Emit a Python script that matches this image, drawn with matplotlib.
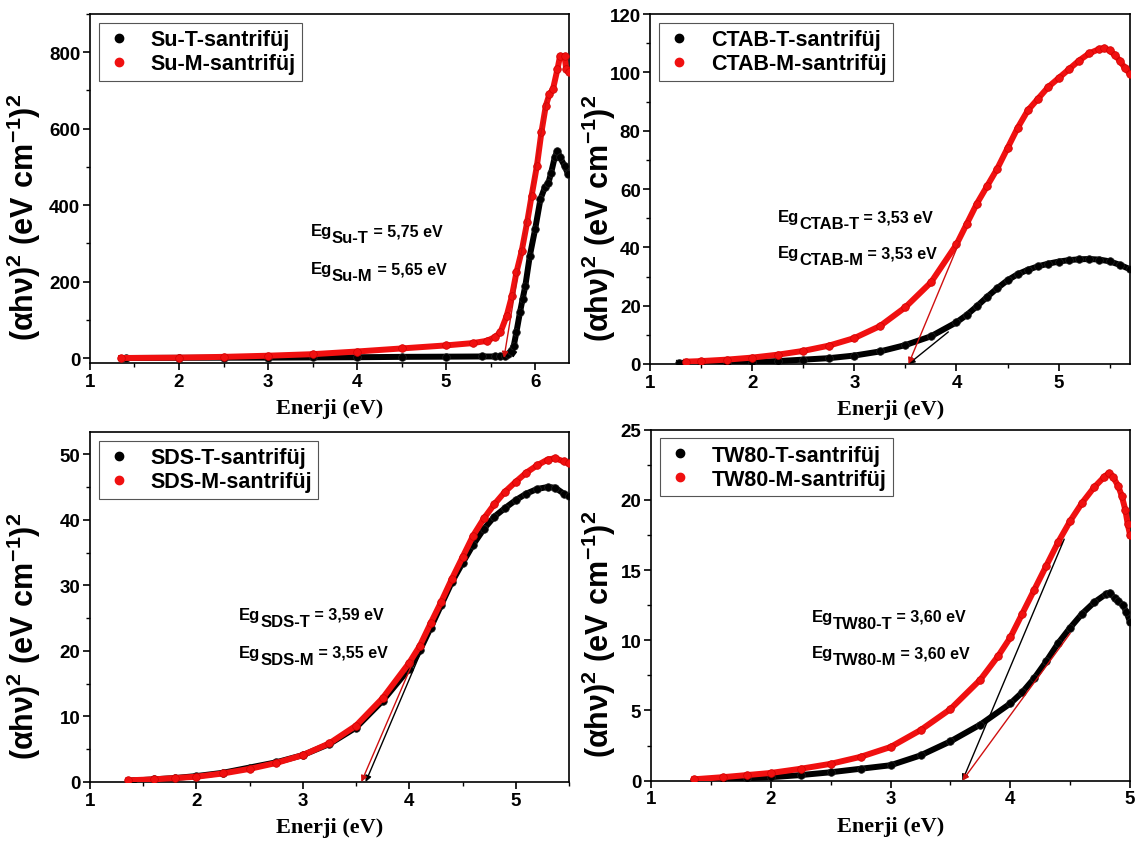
import matplotlib
matplotlib.use("Agg")
import matplotlib.pyplot as plt
from matplotlib.lines import Line2D
from matplotlib.ticker import MultipleLocator

plt.rcParams['font.family'] = ['Liberation Sans', 'DejaVu Sans']
plt.rcParams['mathtext.fontset'] = 'custom'
plt.rcParams['mathtext.rm'] = 'Liberation Sans:bold'
plt.rcParams['mathtext.it'] = 'Liberation Sans:bold'
plt.rcParams['mathtext.bf'] = 'Liberation Sans:bold'

# ---------------- data ----------------
# Su panel
su_t_E = [1.4, 2.0, 2.5, 3.0, 3.5, 4.0, 4.5, 5.0, 5.4, 5.55, 5.61, 5.66, 5.7, 5.73, 5.76, 5.79, 5.83, 5.86,
          5.89, 5.94, 6.0, 6.06, 6.11, 6.15, 6.18, 6.22, 6.25, 6.28, 6.33, 6.37]
su_t_v = [0, 0.5, 0.8, 1, 1.5, 2, 3, 3.5, 4, 4, 4, 6, 10, 18, 32, 68, 120, 155,
          189, 267, 337, 416, 447, 459, 485, 525, 542, 525, 503, 481]
su_m_E = [1.35, 2.0, 2.5, 3.0, 3.5, 4.0, 4.5, 5.0, 5.3, 5.46, 5.55, 5.61, 5.68, 5.74, 5.79, 5.85, 5.91,
          5.96, 6.02, 6.07, 6.12, 6.16, 6.2, 6.25, 6.28, 6.33, 6.35, 6.38]
su_m_v = [0, 1, 3, 6, 10, 17, 25, 33, 39, 45, 55, 67, 110, 163, 224, 281, 355,
          424, 503, 590, 660, 690, 703, 755, 790, 790, 755, 748]

# CTAB panel
ctab_t_E = [1.28, 1.5, 1.75, 2.0, 2.25, 2.5, 2.75, 3.0, 3.25, 3.5, 3.75, 4.0, 4.1, 4.2, 4.3, 4.4, 4.5,
            4.6, 4.7, 4.8, 4.9, 5.0, 5.1, 5.2, 5.3, 5.4, 5.5, 5.6, 5.7]
ctab_t_v = [0.4, 0.4, 0.5, 0.7, 1.0, 1.5, 2.0, 2.9, 4.3, 6.5, 9.5, 14.3, 16.8, 19.8, 23.0, 26.0, 28.7,
            30.8, 32.3, 33.5, 34.4, 35.1, 35.6, 35.9, 36.0, 35.8, 35.2, 34.0, 32.5]
ctab_m_E = [1.35, 1.5, 1.75, 2.0, 2.25, 2.5, 2.75, 3.0, 3.25, 3.5, 3.75, 4.0, 4.1, 4.2, 4.3, 4.4, 4.5,
            4.6, 4.7, 4.8, 4.9, 5.0, 5.1, 5.2, 5.3, 5.4, 5.45, 5.5, 5.55, 5.6, 5.65, 5.7]
ctab_m_v = [0.8, 1.0, 1.5, 2.2, 3.2, 4.5, 6.3, 8.9, 13.0, 19.5, 28, 41, 48, 55, 61, 67, 74,
            81, 87, 91, 95, 98, 101, 104, 106.5, 108, 108.3, 107.5, 106, 104, 101.5, 99.5]

# SDS panel
sds_t_E = [1.4, 1.6, 1.8, 2.0, 2.25, 2.5, 2.75, 3.0, 3.25, 3.5, 3.75, 4.0, 4.1, 4.2, 4.3, 4.4, 4.5,
           4.6, 4.7, 4.8, 4.9, 5.0, 5.1, 5.2, 5.3, 5.37, 5.45, 5.5]
sds_t_v = [0.2, 0.4, 0.6, 0.9, 1.4, 2.2, 3.0, 4.1, 5.8, 8.3, 12.4, 17.3, 20.1, 23.5, 27.0, 30.5, 33.4,
           36.2, 38.6, 40.5, 41.8, 43.0, 44.0, 44.7, 45.0, 44.9, 44.0, 43.6]
sds_m_E = [1.36, 1.6, 1.8, 2.0, 2.25, 2.5, 2.75, 3.0, 3.25, 3.5, 3.75, 4.0, 4.1, 4.2, 4.3, 4.4, 4.5,
           4.6, 4.7, 4.8, 4.9, 5.0, 5.1, 5.2, 5.3, 5.37, 5.45, 5.5]
sds_m_v = [0.25, 0.4, 0.6, 0.8, 1.3, 2.0, 2.9, 4.1, 5.9, 8.6, 12.8, 18.2, 20.8, 24.2, 27.5, 31.0, 34.3,
           37.6, 40.2, 42.4, 44.3, 45.8, 47.2, 48.3, 49.2, 49.4, 48.9, 48.6]

# TW80 panel
tw_t_E = [1.36, 1.6, 1.8, 2.0, 2.25, 2.5, 2.75, 3.0, 3.25, 3.5, 3.75, 4.0, 4.1, 4.2, 4.3, 4.4, 4.5,
          4.6, 4.7, 4.8, 4.83, 4.87, 4.9, 4.94, 4.97, 5.0]
tw_t_v = [0.05, 0.1, 0.17, 0.25, 0.4, 0.6, 0.85, 1.1, 1.8, 2.8, 4.0, 5.5, 6.3, 7.3, 8.5, 9.8, 10.9,
          11.9, 12.7, 13.3, 13.4, 13.0, 12.8, 12.5, 12.0, 11.3]
tw_m_E = [1.36, 1.6, 1.8, 2.0, 2.25, 2.5, 2.75, 3.0, 3.25, 3.5, 3.75, 3.9, 4.0, 4.1, 4.2, 4.3, 4.4, 4.5,
          4.6, 4.7, 4.78, 4.82, 4.86, 4.9, 4.93, 4.96, 4.98, 5.0]
tw_m_v = [0.1, 0.25, 0.4, 0.55, 0.85, 1.2, 1.7, 2.4, 3.6, 5.1, 7.2, 8.9, 10.2, 11.9, 13.6, 15.3, 17.0, 18.5,
          19.8, 20.9, 21.6, 21.9, 21.6, 21.0, 20.3, 19.3, 18.3, 17.5]

# band gaps and tangent-line upper ends (E, value)
su_eg = [5.75, 5.65]
su_tan_end = [(6.06, 416), (6.13, 680)]
ctab_eg = [3.53, 3.53]
ctab_tan_end = [(3.92, 11), (4.03, 42)]
sds_eg = [3.59, 3.55]
sds_tan_end = [(4.10, 19.5), (4.04, 18.5)]
tw_eg = [3.60, 3.60]
tw_tan_end = [(4.45, 17.2), (4.50, 10.5)]

labels_su = ['Su-T-santrifüj', 'Su-M-santrifüj']
labels_ctab = ['CTAB-T-santrifüj', 'CTAB-M-santrifüj']
labels_sds = ['SDS-T-santrifüj', 'SDS-M-santrifüj']
labels_tw = ['TW80-T-santrifüj', 'TW80-M-santrifüj']
sub_su = ['Su-T', 'Su-M']
sub_ctab = ['CTAB-T', 'CTAB-M']
sub_sds = ['SDS-T', 'SDS-M']
sub_tw = ['TW80-T', 'TW80-M']

BLACK = '#000000'
RED = '#f01010'

fig = plt.figure(figsize=(11.4, 8.53), dpi=100)

panels = [
    dict(rect=[0.0789, 0.5733, 0.4202, 0.4091], xlim=(1, 6.38), ylim=(-13, 900), ymaj=200, ymin=100,
         xmax_tick=6, T=(su_t_E, su_t_v), M=(su_m_E, su_m_v), eg=su_eg, tan=su_tan_end,
         labels=labels_su, sub=sub_su, txt=(3.48, 321, 222), ylx=-0.098),
    dict(rect=[0.5705, 0.5721, 0.4207, 0.4103], xlim=(1, 5.7), ylim=(0, 120), ymaj=20, ymin=10,
         xmax_tick=5, T=(ctab_t_E, ctab_t_v), M=(ctab_m_E, ctab_m_v), eg=ctab_eg, tan=ctab_tan_end,
         labels=labels_ctab, sub=sub_ctab, txt=(2.25, 49, 36.6), ylx=-0.068),
    dict(rect=[0.0789, 0.0821, 0.4202, 0.4103], xlim=(1, 5.5), ylim=(0, 53.4), ymaj=10, ymin=5,
         xmax_tick=5, T=(sds_t_E, sds_t_v), M=(sds_m_E, sds_m_v), eg=sds_eg, tan=sds_tan_end,
         labels=labels_sds, sub=sub_sds, txt=(2.40, 24.9, 19.1), ylx=-0.098),
    dict(rect=[0.5711, 0.0836, 0.4202, 0.4115], xlim=(1, 5), ylim=(0, 25), ymaj=5, ymin=2.5,
         xmax_tick=5, T=(tw_t_E, tw_t_v), M=(tw_m_E, tw_m_v), eg=tw_eg, tan=tw_tan_end,
         labels=labels_tw, sub=sub_tw, txt=(2.34, 11.4, 8.8), ylx=-0.068),
]

for p in panels:
    ax = fig.add_axes(p['rect'])
    ax.plot(p['T'][0], p['T'][1], '-o', color=BLACK, lw=4.3, ms=5.5, mec='#222222', mew=0.5, zorder=3)
    ax.plot(p['M'][0], p['M'][1], '-o', color=RED, lw=4.3, ms=5.5, mec='#d00000', mew=0.5, zorder=4)
    cols = [BLACK, '#d01010']
    for k in range(2):
        ax.annotate('', xy=(p['eg'][k], 0), xytext=p['tan'][k],
                    arrowprops=dict(arrowstyle='-|>', color=cols[k], lw=1.0, mutation_scale=9,
                                    shrinkA=0, shrinkB=0), zorder=6)
    ax.set_xlim(*p['xlim'])
    ax.set_ylim(*p['ylim'])
    ax.set_xticks(range(1, p['xmax_tick'] + 1))
    ax.xaxis.set_minor_locator(MultipleLocator(0.5))
    ax.yaxis.set_major_locator(MultipleLocator(p['ymaj']))
    ax.yaxis.set_minor_locator(MultipleLocator(p['ymin']))
    ax.tick_params(axis='both', which='major', direction='out', length=5, width=1.2,
                   labelsize=13.5, pad=2)
    ax.tick_params(axis='both', which='minor', direction='out', length=3, width=1.0)
    for lab in ax.get_xticklabels() + ax.get_yticklabels():
        lab.set_fontweight('bold')
    for s in ax.spines.values():
        s.set_linewidth(1.2)
    ax.set_xlabel('Enerji (eV)', family=['Liberation Serif'], fontweight='bold', fontsize=16, labelpad=6)
    ax.set_ylabel(r'$(\alpha h\nu)^{2}\ (eV\ cm^{-1})^{2}$', fontsize=22)
    ax.yaxis.set_label_coords(p['ylx'], 0.42)

    handles = [Line2D([], [], ls='none', marker='o', ms=6, color=BLACK),
               Line2D([], [], ls='none', marker='o', ms=6, color=RED)]
    leg = ax.legend(handles, p['labels'], loc='upper left', fancybox=False, framealpha=1,
                    edgecolor='#555555', prop=dict(family='Liberation Sans', weight='bold', size=15.5),
                    borderaxespad=0.4, handletextpad=0.8, handlelength=1.3, labelspacing=0.15,
                    borderpad=0.3)
    leg.get_frame().set_linewidth(0.8)

    tx, ty1, ty2 = p['txt']
    egs = [p['eg'][0], p['eg'][1]]
    for k, ty in enumerate([ty1, ty2]):
        t1 = ax.text(tx, ty, 'Eg', fontsize=12, fontweight='bold', va='baseline', ha='left', zorder=7)
        t2 = ax.annotate(p['sub'][k], xy=(1, 0), xycoords=t1, xytext=(0, -5), textcoords='offset points',
                         fontsize=12, fontweight='bold', va='bottom', ha='left', zorder=7)
        val = ('%.2f' % egs[k]).replace('.', ',')
        ax.annotate(' = %s eV' % val, xy=(1, 1), xycoords=(t2, t1), xytext=(0, 0),
                    textcoords='offset points', fontsize=11.5, fontweight='bold', va='top', ha='left',
                    zorder=7)

fig.savefig('out.png', dpi=100)
